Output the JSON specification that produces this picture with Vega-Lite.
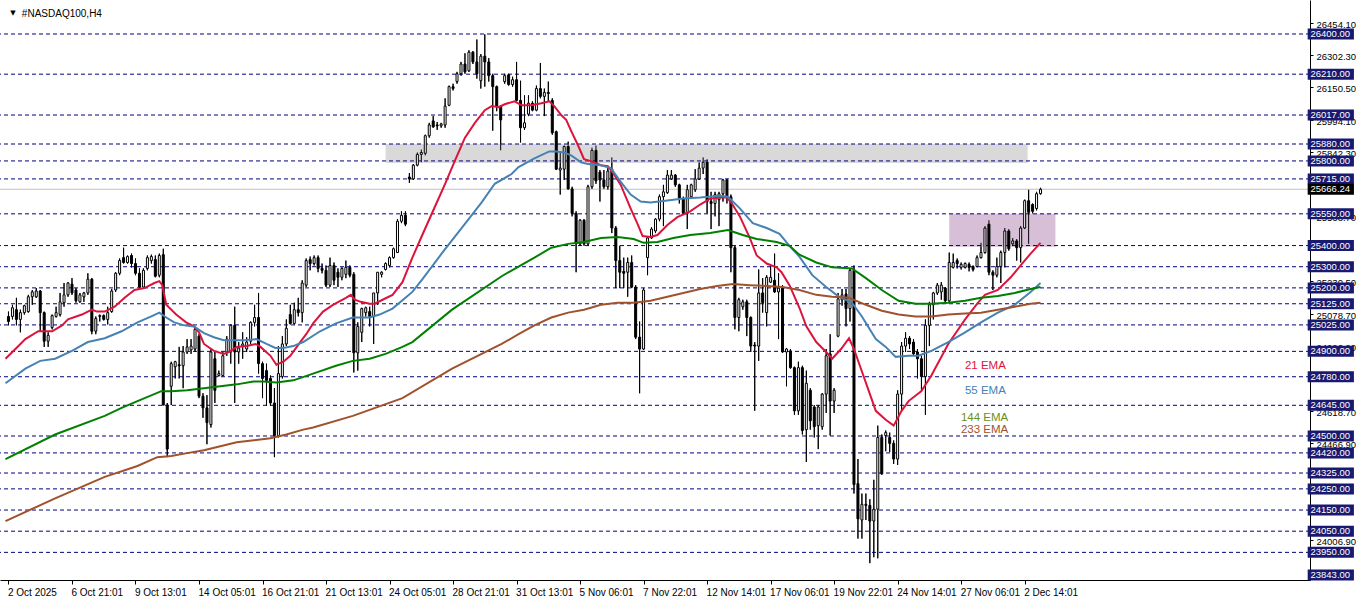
{
"$schema": "https://vega.github.io/schema/vega-lite/v6.json",
"width": 1310, "height": 580,
"autosize": {"type": "none"},
"padding": {"left": 0, "top": 0, "right": 52, "bottom": 23},
"background": "#ffffff",
"config": {"view": {"stroke": null}, "font": "Liberation Sans"},
"datasets": {
"candles": [
{"i":0,"o":25065,"h":25088,"l":25023,"c":25041},
{"i":1,"o":25065,"h":25120,"l":25051,"c":25106},
{"i":2,"o":25097,"h":25153,"l":25023,"c":25051},
{"i":3,"o":25051,"h":25097,"l":24990,"c":25083},
{"i":4,"o":25083,"h":25120,"l":25074,"c":25116},
{"i":5,"o":25088,"h":25167,"l":25083,"c":25158},
{"i":6,"o":25158,"h":25190,"l":25120,"c":25181},
{"i":7,"o":25158,"h":25199,"l":25153,"c":25185},
{"i":8,"o":25185,"h":25190,"l":24995,"c":25083},
{"i":9,"o":25083,"h":25088,"l":24921,"c":24948},
{"i":10,"o":24948,"h":24990,"l":24921,"c":24976},
{"i":11,"o":25013,"h":25074,"l":25004,"c":25069},
{"i":12,"o":25065,"h":25111,"l":25060,"c":25083},
{"i":13,"o":25074,"h":25176,"l":25065,"c":25134},
{"i":14,"o":25130,"h":25223,"l":25111,"c":25167},
{"i":15,"o":25167,"h":25227,"l":25158,"c":25223},
{"i":16,"o":25218,"h":25246,"l":25167,"c":25176},
{"i":17,"o":25190,"h":25199,"l":25130,"c":25139},
{"i":18,"o":25134,"h":25176,"l":25130,"c":25167},
{"i":19,"o":25158,"h":25181,"l":25134,"c":25176},
{"i":20,"o":25176,"h":25269,"l":25167,"c":25241},
{"i":21,"o":25241,"h":25246,"l":24981,"c":24995},
{"i":22,"o":24995,"h":25065,"l":24981,"c":25055},
{"i":23,"o":25065,"h":25074,"l":25041,"c":25069},
{"i":24,"o":25069,"h":25074,"l":25046,"c":25051},
{"i":25,"o":25051,"h":25111,"l":25027,"c":25083},
{"i":26,"o":25088,"h":25195,"l":25083,"c":25185},
{"i":27,"o":25190,"h":25274,"l":25181,"c":25269},
{"i":28,"o":25269,"h":25339,"l":25260,"c":25329},
{"i":29,"o":25343,"h":25390,"l":25315,"c":25320},
{"i":30,"o":25320,"h":25353,"l":25315,"c":25348},
{"i":31,"o":25353,"h":25362,"l":25297,"c":25315},
{"i":32,"o":25315,"h":25339,"l":25260,"c":25269},
{"i":33,"o":25269,"h":25292,"l":25199,"c":25204},
{"i":34,"o":25204,"h":25292,"l":25199,"c":25283},
{"i":35,"o":25292,"h":25353,"l":25283,"c":25343},
{"i":36,"o":25329,"h":25357,"l":25315,"c":25348},
{"i":37,"o":25334,"h":25353,"l":25250,"c":25255},
{"i":38,"o":25260,"h":25362,"l":25250,"c":25353},
{"i":39,"o":25357,"h":25385,"l":24646,"c":24646},
{"i":40,"o":24646,"h":24656,"l":24400,"c":24438},
{"i":41,"o":24735,"h":24851,"l":24646,"c":24842},
{"i":42,"o":24827,"h":24855,"l":24772,"c":24851},
{"i":43,"o":24837,"h":24921,"l":24772,"c":24832},
{"i":44,"o":24832,"h":24925,"l":24726,"c":24897},
{"i":45,"o":24897,"h":24958,"l":24888,"c":24921},
{"i":46,"o":24907,"h":24958,"l":24888,"c":24925},
{"i":47,"o":24911,"h":25013,"l":24897,"c":25004},
{"i":48,"o":24972,"h":24981,"l":24679,"c":24688},
{"i":49,"o":24688,"h":24702,"l":24586,"c":24633},
{"i":50,"o":24633,"h":24693,"l":24461,"c":24563},
{"i":51,"o":24554,"h":24911,"l":24540,"c":24897},
{"i":52,"o":24865,"h":24897,"l":24656,"c":24716},
{"i":53,"o":24786,"h":24809,"l":24781,"c":24795},
{"i":54,"o":24786,"h":24897,"l":24781,"c":24879},
{"i":55,"o":24897,"h":24972,"l":24879,"c":24958},
{"i":56,"o":24897,"h":25027,"l":24842,"c":25023},
{"i":57,"o":25023,"h":25111,"l":24656,"c":24897},
{"i":58,"o":24897,"h":24944,"l":24842,"c":24916},
{"i":59,"o":24925,"h":24990,"l":24865,"c":24935},
{"i":60,"o":24911,"h":24967,"l":24897,"c":24944},
{"i":61,"o":24948,"h":25041,"l":24935,"c":25037},
{"i":62,"o":25037,"h":25120,"l":25018,"c":25060},
{"i":63,"o":25060,"h":25176,"l":24795,"c":24842},
{"i":64,"o":24842,"h":24851,"l":24679,"c":24772},
{"i":65,"o":24809,"h":24842,"l":24642,"c":24763},
{"i":66,"o":24772,"h":24786,"l":24642,"c":24656},
{"i":67,"o":24656,"h":24726,"l":24400,"c":24502},
{"i":68,"o":24502,"h":24925,"l":24493,"c":24795},
{"i":69,"o":24781,"h":24972,"l":24772,"c":24935},
{"i":70,"o":24935,"h":25051,"l":24925,"c":25009},
{"i":71,"o":25074,"h":25120,"l":25027,"c":25032},
{"i":72,"o":25032,"h":25130,"l":25027,"c":25097},
{"i":73,"o":25097,"h":25153,"l":25065,"c":25083},
{"i":74,"o":25083,"h":25236,"l":25037,"c":25223},
{"i":75,"o":25213,"h":25339,"l":25204,"c":25329},
{"i":76,"o":25334,"h":25348,"l":25283,"c":25315},
{"i":77,"o":25315,"h":25353,"l":25306,"c":25343},
{"i":78,"o":25343,"h":25353,"l":25274,"c":25292},
{"i":79,"o":25292,"h":25315,"l":25269,"c":25283},
{"i":80,"o":25283,"h":25306,"l":25204,"c":25213},
{"i":81,"o":25213,"h":25343,"l":25204,"c":25306},
{"i":82,"o":25306,"h":25320,"l":25213,"c":25236},
{"i":83,"o":25274,"h":25292,"l":25204,"c":25250},
{"i":84,"o":25250,"h":25297,"l":25236,"c":25292},
{"i":85,"o":25264,"h":25329,"l":25246,"c":25297},
{"i":86,"o":25297,"h":25306,"l":25250,"c":25260},
{"i":87,"o":25264,"h":25274,"l":24800,"c":24893},
{"i":88,"o":24893,"h":25037,"l":24809,"c":25018},
{"i":89,"o":24990,"h":25106,"l":24944,"c":25102},
{"i":90,"o":25083,"h":25111,"l":25065,"c":25106},
{"i":91,"o":25088,"h":25111,"l":25018,"c":25065},
{"i":92,"o":25065,"h":25176,"l":24935,"c":25176},
{"i":93,"o":25176,"h":25274,"l":25120,"c":25274},
{"i":94,"o":25264,"h":25278,"l":25250,"c":25274},
{"i":95,"o":25287,"h":25320,"l":25283,"c":25315},
{"i":96,"o":25306,"h":25348,"l":25297,"c":25343},
{"i":97,"o":25343,"h":25390,"l":25339,"c":25385},
{"i":98,"o":25367,"h":25525,"l":25367,"c":25515},
{"i":99,"o":25515,"h":25562,"l":25506,"c":25543},
{"i":100,"o":25543,"h":25562,"l":25492,"c":25501},
{"i":101,"o":25724,"h":25743,"l":25696,"c":25715},
{"i":102,"o":25715,"h":25785,"l":25710,"c":25780},
{"i":103,"o":25780,"h":25840,"l":25775,"c":25831},
{"i":104,"o":25831,"h":25854,"l":25794,"c":25840},
{"i":105,"o":25836,"h":25924,"l":25826,"c":25919},
{"i":106,"o":25919,"h":25980,"l":25910,"c":25970},
{"i":107,"o":25989,"h":26012,"l":25957,"c":25961},
{"i":108,"o":25970,"h":25984,"l":25947,"c":25966},
{"i":109,"o":25966,"h":25980,"l":25957,"c":25975},
{"i":110,"o":25970,"h":26096,"l":25957,"c":26059},
{"i":111,"o":26063,"h":26156,"l":26059,"c":26151},
{"i":112,"o":26151,"h":26165,"l":26133,"c":26142},
{"i":113,"o":26175,"h":26221,"l":26165,"c":26212},
{"i":114,"o":26212,"h":26268,"l":26203,"c":26258},
{"i":115,"o":26258,"h":26309,"l":26212,"c":26221},
{"i":116,"o":26226,"h":26323,"l":26221,"c":26314},
{"i":117,"o":26314,"h":26319,"l":26258,"c":26268},
{"i":118,"o":26268,"h":26374,"l":26189,"c":26212},
{"i":119,"o":26179,"h":26305,"l":26142,"c":26295},
{"i":120,"o":26295,"h":26398,"l":26151,"c":26268},
{"i":121,"o":26268,"h":26286,"l":26175,"c":26203},
{"i":122,"o":26203,"h":26212,"l":25943,"c":26151},
{"i":123,"o":26151,"h":26156,"l":26035,"c":26059},
{"i":124,"o":26059,"h":26063,"l":25850,"c":25994},
{"i":125,"o":26175,"h":26212,"l":26165,"c":26203},
{"i":126,"o":26207,"h":26212,"l":26156,"c":26161},
{"i":127,"o":26161,"h":26198,"l":26151,"c":26184},
{"i":128,"o":26184,"h":26268,"l":26082,"c":26086},
{"i":129,"o":26086,"h":26179,"l":25887,"c":25957},
{"i":130,"o":25957,"h":26110,"l":25947,"c":25980},
{"i":131,"o":26021,"h":26110,"l":26012,"c":26073},
{"i":132,"o":26073,"h":26082,"l":26035,"c":26040},
{"i":133,"o":26040,"h":26156,"l":26035,"c":26142},
{"i":134,"o":26142,"h":26263,"l":26096,"c":26105},
{"i":135,"o":26105,"h":26142,"l":26012,"c":26124},
{"i":136,"o":26124,"h":26175,"l":26082,"c":26119},
{"i":137,"o":26086,"h":26096,"l":25924,"c":25933},
{"i":138,"o":25938,"h":25943,"l":25757,"c":25761},
{"i":139,"o":25757,"h":25840,"l":25641,"c":25766},
{"i":140,"o":25761,"h":25873,"l":25710,"c":25868},
{"i":141,"o":25868,"h":25891,"l":25664,"c":25668},
{"i":142,"o":25668,"h":25678,"l":25538,"c":25552},
{"i":143,"o":25552,"h":25562,"l":25274,"c":25408},
{"i":144,"o":25408,"h":25525,"l":25399,"c":25520},
{"i":145,"o":25520,"h":25525,"l":25399,"c":25408},
{"i":146,"o":25408,"h":25687,"l":25399,"c":25678},
{"i":147,"o":25678,"h":25863,"l":25668,"c":25850},
{"i":148,"o":25850,"h":25873,"l":25692,"c":25706},
{"i":149,"o":25747,"h":25757,"l":25608,"c":25710},
{"i":150,"o":25710,"h":25757,"l":25668,"c":25678},
{"i":151,"o":25678,"h":25771,"l":25664,"c":25752},
{"i":152,"o":25761,"h":25817,"l":25459,"c":25483},
{"i":153,"o":25483,"h":25492,"l":25199,"c":25329},
{"i":154,"o":25329,"h":25399,"l":25199,"c":25274},
{"i":155,"o":25278,"h":25343,"l":25199,"c":25269},
{"i":156,"o":25274,"h":25343,"l":25158,"c":25320},
{"i":157,"o":25320,"h":25353,"l":25199,"c":25204},
{"i":158,"o":25204,"h":25213,"l":24958,"c":24967},
{"i":159,"o":24967,"h":25041,"l":24702,"c":24911},
{"i":160,"o":24911,"h":25199,"l":24907,"c":25190},
{"i":161,"o":25343,"h":25445,"l":25260,"c":25436},
{"i":162,"o":25436,"h":25487,"l":25431,"c":25478},
{"i":163,"o":25469,"h":25529,"l":25459,"c":25525},
{"i":164,"o":25525,"h":25641,"l":25515,"c":25631},
{"i":165,"o":25631,"h":25687,"l":25492,"c":25654},
{"i":166,"o":25650,"h":25757,"l":25645,"c":25733},
{"i":167,"o":25715,"h":25757,"l":25710,"c":25733},
{"i":168,"o":25733,"h":25738,"l":25678,"c":25687},
{"i":169,"o":25687,"h":25692,"l":25599,"c":25622},
{"i":170,"o":25622,"h":25631,"l":25548,"c":25552},
{"i":171,"o":25552,"h":25687,"l":25478,"c":25664},
{"i":172,"o":25631,"h":25692,"l":25622,"c":25687},
{"i":173,"o":25664,"h":25761,"l":25654,"c":25715},
{"i":174,"o":25715,"h":25794,"l":25710,"c":25766},
{"i":175,"o":25766,"h":25817,"l":25738,"c":25794},
{"i":176,"o":25794,"h":25808,"l":25552,"c":25608},
{"i":177,"o":25608,"h":25654,"l":25478,"c":25599},
{"i":178,"o":25599,"h":25654,"l":25538,"c":25641},
{"i":179,"o":25617,"h":25654,"l":25492,"c":25645},
{"i":180,"o":25645,"h":25715,"l":25608,"c":25710},
{"i":181,"o":25710,"h":25715,"l":25599,"c":25631},
{"i":182,"o":25631,"h":25641,"l":25274,"c":25390},
{"i":183,"o":25390,"h":25399,"l":25004,"c":25060},
{"i":184,"o":25060,"h":25153,"l":24995,"c":25144},
{"i":185,"o":25111,"h":25144,"l":25097,"c":25134},
{"i":186,"o":25134,"h":25144,"l":24972,"c":25060},
{"i":187,"o":25060,"h":25065,"l":24897,"c":24925},
{"i":188,"o":24930,"h":24944,"l":24619,"c":24925},
{"i":189,"o":24925,"h":25287,"l":24855,"c":25176},
{"i":190,"o":25176,"h":25246,"l":25083,"c":25130},
{"i":191,"o":25083,"h":25260,"l":25018,"c":25250},
{"i":192,"o":25227,"h":25306,"l":25223,"c":25250},
{"i":193,"o":25236,"h":25362,"l":25176,"c":25181},
{"i":194,"o":25181,"h":25269,"l":24958,"c":25199},
{"i":195,"o":25199,"h":25213,"l":24893,"c":24897},
{"i":196,"o":24897,"h":24916,"l":24735,"c":24911},
{"i":197,"o":24902,"h":24911,"l":24818,"c":24823},
{"i":198,"o":24823,"h":24828,"l":24600,"c":24619},
{"i":199,"o":24619,"h":24851,"l":24600,"c":24823},
{"i":200,"o":24823,"h":24832,"l":24507,"c":24526},
{"i":201,"o":24530,"h":24809,"l":24377,"c":24749},
{"i":202,"o":24716,"h":24726,"l":24530,"c":24572},
{"i":203,"o":24637,"h":24646,"l":24493,"c":24544},
{"i":204,"o":24549,"h":24646,"l":24438,"c":24637},
{"i":205,"o":24544,"h":24702,"l":24530,"c":24698},
{"i":206,"o":24698,"h":24911,"l":24609,"c":24879},
{"i":207,"o":24888,"h":24981,"l":24502,"c":24665},
{"i":208,"o":24665,"h":24726,"l":24609,"c":24716},
{"i":209,"o":24972,"h":25176,"l":24967,"c":25148},
{"i":210,"o":25144,"h":25195,"l":25116,"c":25167},
{"i":211,"o":25171,"h":25195,"l":25018,"c":25102},
{"i":212,"o":25102,"h":25292,"l":25041,"c":25283},
{"i":213,"o":25283,"h":25306,"l":24228,"c":24270},
{"i":214,"o":24275,"h":24391,"l":24015,"c":24108},
{"i":215,"o":24103,"h":24228,"l":24015,"c":24177},
{"i":216,"o":24177,"h":24228,"l":24103,"c":24172},
{"i":217,"o":24172,"h":24201,"l":23899,"c":24098},
{"i":218,"o":24098,"h":24293,"l":23927,"c":24154},
{"i":219,"o":24154,"h":24549,"l":23922,"c":24493},
{"i":220,"o":24493,"h":24507,"l":24317,"c":24321},
{"i":221,"o":24502,"h":24526,"l":24428,"c":24516},
{"i":222,"o":24493,"h":24516,"l":24424,"c":24465},
{"i":223,"o":24465,"h":24479,"l":24368,"c":24391},
{"i":224,"o":24391,"h":24716,"l":24363,"c":24698},
{"i":225,"o":24698,"h":24944,"l":24619,"c":24925},
{"i":226,"o":24925,"h":24990,"l":24897,"c":24962},
{"i":227,"o":24962,"h":24972,"l":24911,"c":24935},
{"i":228,"o":24944,"h":24958,"l":24879,"c":24888},
{"i":229,"o":24897,"h":24911,"l":24772,"c":24865},
{"i":230,"o":24865,"h":24879,"l":24712,"c":24781},
{"i":231,"o":24781,"h":25051,"l":24600,"c":25023},
{"i":232,"o":25023,"h":25134,"l":24925,"c":25120},
{"i":233,"o":25120,"h":25181,"l":25051,"c":25176},
{"i":234,"o":25176,"h":25223,"l":25167,"c":25213},
{"i":235,"o":25181,"h":25227,"l":25144,"c":25213},
{"i":236,"o":25199,"h":25204,"l":25130,"c":25139},
{"i":237,"o":25139,"h":25367,"l":25134,"c":25320},
{"i":238,"o":25297,"h":25362,"l":25292,"c":25320},
{"i":239,"o":25329,"h":25339,"l":25292,"c":25315},
{"i":240,"o":25297,"h":25320,"l":25287,"c":25311},
{"i":241,"o":25297,"h":25320,"l":25292,"c":25315},
{"i":242,"o":25311,"h":25320,"l":25278,"c":25297},
{"i":243,"o":25301,"h":25306,"l":25278,"c":25287},
{"i":244,"o":25301,"h":25353,"l":25297,"c":25343},
{"i":245,"o":25343,"h":25413,"l":25339,"c":25367},
{"i":246,"o":25367,"h":25492,"l":25362,"c":25483},
{"i":247,"o":25501,"h":25520,"l":25260,"c":25274},
{"i":248,"o":25274,"h":25283,"l":25190,"c":25260},
{"i":249,"o":25260,"h":25343,"l":25250,"c":25301},
{"i":250,"o":25301,"h":25376,"l":25223,"c":25367},
{"i":251,"o":25367,"h":25483,"l":25297,"c":25469},
{"i":252,"o":25469,"h":25478,"l":25376,"c":25385},
{"i":253,"o":25408,"h":25436,"l":25399,"c":25422},
{"i":254,"o":25422,"h":25431,"l":25329,"c":25390},
{"i":255,"o":25390,"h":25492,"l":25320,"c":25483},
{"i":256,"o":25483,"h":25617,"l":25478,"c":25612},
{"i":257,"o":25612,"h":25664,"l":25408,"c":25557},
{"i":258,"o":25594,"h":25599,"l":25552,"c":25562},
{"i":259,"o":25575,"h":25654,"l":25566,"c":25645},
{"i":260,"o":25645,"h":25673,"l":25641,"c":25666.24}
],
"ema": [
{"e":"21","i":-0.75,"v":24865},{"e":"21","i":1.75,"v":24911},{"e":"21","i":4.25,"v":24958},{"e":"21","i":7.5,"v":24995},{"e":"21","i":11,"v":24995},{"e":"21","i":13.5,"v":25023},{"e":"21","i":15,"v":25051},{"e":"21","i":18.5,"v":25074},{"e":"21","i":21,"v":25097},{"e":"21","i":22.25,"v":25088},{"e":"21","i":24.25,"v":25088},{"e":"21","i":26.75,"v":25111},{"e":"21","i":29.25,"v":25153},{"e":"21","i":31.75,"v":25190},{"e":"21","i":34.25,"v":25199},{"e":"21","i":36.75,"v":25223},{"e":"21","i":38,"v":25232},{"e":"21","i":38.75,"v":25213},{"e":"21","i":39.75,"v":25120},{"e":"21","i":42.25,"v":25074},{"e":"21","i":44.75,"v":25037},{"e":"21","i":46.75,"v":25018},{"e":"21","i":48,"v":24990},{"e":"21","i":49.25,"v":24935},{"e":"21","i":51.75,"v":24902},{"e":"21","i":54.25,"v":24888},{"e":"21","i":55.5,"v":24897},{"e":"21","i":57.5,"v":24921},{"e":"21","i":60,"v":24925},{"e":"21","i":62.25,"v":24935},{"e":"21","i":63.5,"v":24921},{"e":"21","i":66,"v":24879},{"e":"21","i":67.5,"v":24837},{"e":"21","i":69.25,"v":24851},{"e":"21","i":71,"v":24879},{"e":"21","i":73.5,"v":24944},{"e":"21","i":75,"v":24981},{"e":"21","i":76.75,"v":25032},{"e":"21","i":79.25,"v":25088},{"e":"21","i":81.75,"v":25120},{"e":"21","i":85,"v":25153},{"e":"21","i":86.25,"v":25167},{"e":"21","i":87.25,"v":25144},{"e":"21","i":88.75,"v":25134},{"e":"21","i":91,"v":25125},{"e":"21","i":92.25,"v":25125},{"e":"21","i":94.25,"v":25144},{"e":"21","i":96.75,"v":25167},{"e":"21","i":99.25,"v":25227},{"e":"21","i":101.75,"v":25343},{"e":"21","i":104.25,"v":25450},{"e":"21","i":106.75,"v":25555},{"e":"21","i":110,"v":25692},{"e":"21","i":112.5,"v":25803},{"e":"21","i":115,"v":25910},{"e":"21","i":117.5,"v":25980},{"e":"21","i":120,"v":26040},{"e":"21","i":121.75,"v":26059},{"e":"21","i":123.5,"v":26054},{"e":"21","i":125,"v":26068},{"e":"21","i":127.5,"v":26082},{"e":"21","i":129.25,"v":26063},{"e":"21","i":131.75,"v":26063},{"e":"21","i":134.25,"v":26073},{"e":"21","i":136.25,"v":26082},{"e":"21","i":137.5,"v":26059},{"e":"21","i":139.25,"v":26017},{"e":"21","i":140.5,"v":25994},{"e":"21","i":141.75,"v":25942},{"e":"21","i":143.5,"v":25873},{"e":"21","i":145,"v":25808},{"e":"21","i":146.75,"v":25799},{"e":"21","i":149.25,"v":25780},{"e":"21","i":151,"v":25775},{"e":"21","i":152.5,"v":25738},{"e":"21","i":154.25,"v":25687},{"e":"21","i":156.75,"v":25575},{"e":"21","i":158.5,"v":25501},{"e":"21","i":159.75,"v":25445},{"e":"21","i":161.75,"v":25441},{"e":"21","i":163.5,"v":25450},{"e":"21","i":166,"v":25497},{"e":"21","i":168.5,"v":25534},{"e":"21","i":171.75,"v":25562},{"e":"21","i":174.25,"v":25594},{"e":"21","i":176.75,"v":25622},{"e":"21","i":179.25,"v":25627},{"e":"21","i":181,"v":25627},{"e":"21","i":182.25,"v":25599},{"e":"21","i":184.25,"v":25538},{"e":"21","i":186.75,"v":25436},{"e":"21","i":188.5,"v":25353},{"e":"21","i":191,"v":25315},{"e":"21","i":193.5,"v":25297},{"e":"21","i":194.75,"v":25274},{"e":"21","i":196.75,"v":25213},{"e":"21","i":199.25,"v":25106},{"e":"21","i":201,"v":25018},{"e":"21","i":203.5,"v":24944},{"e":"21","i":206,"v":24897},{"e":"21","i":207.5,"v":24865},{"e":"21","i":209.75,"v":24911},{"e":"21","i":211.75,"v":24962},{"e":"21","i":213,"v":24911},{"e":"21","i":215,"v":24805},{"e":"21","i":216.75,"v":24712},{"e":"21","i":218.5,"v":24619},{"e":"21","i":221,"v":24577},{"e":"21","i":223,"v":24549},{"e":"21","i":225,"v":24619},{"e":"21","i":226.75,"v":24665},{"e":"21","i":230,"v":24712},{"e":"21","i":232.5,"v":24786},{"e":"21","i":236.75,"v":24935},{"e":"21","i":241,"v":25051},{"e":"21","i":244.25,"v":25130},{"e":"21","i":246,"v":25167},{"e":"21","i":249.25,"v":25190},{"e":"21","i":252.5,"v":25250},{"e":"21","i":255,"v":25306},{"e":"21","i":257.5,"v":25362},{"e":"21","i":260,"v":25413},
{"e":"55","i":-0.75,"v":24749},{"e":"55","i":4.25,"v":24818},{"e":"55","i":8,"v":24855},{"e":"55","i":11.75,"v":24865},{"e":"55","i":16,"v":24902},{"e":"55","i":20,"v":24944},{"e":"55","i":24.25,"v":24962},{"e":"55","i":28.5,"v":24995},{"e":"55","i":32.5,"v":25037},{"e":"55","i":36,"v":25065},{"e":"55","i":38,"v":25083},{"e":"55","i":39.75,"v":25060},{"e":"55","i":41.75,"v":25037},{"e":"55","i":44.25,"v":25023},{"e":"55","i":46.75,"v":25018},{"e":"55","i":49.25,"v":24986},{"e":"55","i":51.75,"v":24967},{"e":"55","i":54.25,"v":24953},{"e":"55","i":59.25,"v":24953},{"e":"55","i":62.5,"v":24958},{"e":"55","i":65,"v":24935},{"e":"55","i":67.25,"v":24916},{"e":"55","i":69.25,"v":24916},{"e":"55","i":71.75,"v":24925},{"e":"55","i":74.25,"v":24944},{"e":"55","i":78.5,"v":24995},{"e":"55","i":82.5,"v":25032},{"e":"55","i":86.75,"v":25060},{"e":"55","i":91,"v":25060},{"e":"55","i":93.5,"v":25074},{"e":"55","i":96.75,"v":25102},{"e":"55","i":100,"v":25153},{"e":"55","i":101.75,"v":25181},{"e":"55","i":104.25,"v":25240},{"e":"55","i":109.25,"v":25365},{"e":"55","i":114.25,"v":25485},{"e":"55","i":119.25,"v":25605},{"e":"55","i":122.5,"v":25692},{"e":"55","i":126.75,"v":25738},{"e":"55","i":128.5,"v":25771},{"e":"55","i":132.5,"v":25812},{"e":"55","i":136.25,"v":25845},{"e":"55","i":138,"v":25845},{"e":"55","i":140,"v":25840},{"e":"55","i":141.75,"v":25826},{"e":"55","i":144.25,"v":25794},{"e":"55","i":146,"v":25785},{"e":"55","i":149.25,"v":25780},{"e":"55","i":151.75,"v":25766},{"e":"55","i":154.25,"v":25701},{"e":"55","i":156.75,"v":25641},{"e":"55","i":159.25,"v":25608},{"e":"55","i":161.75,"v":25603},{"e":"55","i":166,"v":25613},{"e":"55","i":170,"v":25622},{"e":"55","i":174.25,"v":25627},{"e":"55","i":179.25,"v":25636},{"e":"55","i":181.25,"v":25631},{"e":"55","i":184.25,"v":25576},{"e":"55","i":187.5,"v":25506},{"e":"55","i":191,"v":25483},{"e":"55","i":194.25,"v":25455},{"e":"55","i":196.75,"v":25399},{"e":"55","i":199.25,"v":25348},{"e":"55","i":202.5,"v":25260},{"e":"55","i":206,"v":25204},{"e":"55","i":209.25,"v":25158},{"e":"55","i":212.5,"v":25130},{"e":"55","i":215,"v":25065},{"e":"55","i":218.5,"v":24958},{"e":"55","i":221,"v":24921},{"e":"55","i":223.5,"v":24874},{"e":"55","i":226.75,"v":24879},{"e":"55","i":229.25,"v":24879},{"e":"55","i":232.5,"v":24902},{"e":"55","i":236.75,"v":24944},{"e":"55","i":241,"v":24990},{"e":"55","i":245,"v":25037},{"e":"55","i":249.25,"v":25083},{"e":"55","i":253.5,"v":25120},{"e":"55","i":257.5,"v":25181},{"e":"55","i":260,"v":25223},
{"e":"144","i":-0.75,"v":24391},{"e":"144","i":11.75,"v":24507},{"e":"144","i":24.25,"v":24595},{"e":"144","i":28.5,"v":24633},{"e":"144","i":32.5,"v":24665},{"e":"144","i":38.5,"v":24712},{"e":"144","i":41,"v":24712},{"e":"144","i":45,"v":24716},{"e":"144","i":49.25,"v":24726},{"e":"144","i":57.5,"v":24744},{"e":"144","i":61.75,"v":24758},{"e":"144","i":64.25,"v":24758},{"e":"144","i":67.5,"v":24753},{"e":"144","i":71.75,"v":24763},{"e":"144","i":76.75,"v":24795},{"e":"144","i":82.5,"v":24832},{"e":"144","i":86.75,"v":24855},{"e":"144","i":91,"v":24865},{"e":"144","i":95,"v":24888},{"e":"144","i":99.25,"v":24921},{"e":"144","i":101.75,"v":24944},{"e":"144","i":111.75,"v":25097},{"e":"144","i":124.25,"v":25255},{"e":"144","i":128.5,"v":25301},{"e":"144","i":132.5,"v":25343},{"e":"144","i":136.75,"v":25390},{"e":"144","i":141,"v":25408},{"e":"144","i":145,"v":25417},{"e":"144","i":149.25,"v":25436},{"e":"144","i":153.5,"v":25441},{"e":"144","i":157.5,"v":25431},{"e":"144","i":160,"v":25413},{"e":"144","i":163.5,"v":25417},{"e":"144","i":167.5,"v":25436},{"e":"144","i":171.75,"v":25450},{"e":"144","i":176.75,"v":25459},{"e":"144","i":181.25,"v":25473},{"e":"144","i":185,"v":25450},{"e":"144","i":188.5,"v":25431},{"e":"144","i":193.5,"v":25417},{"e":"144","i":196.75,"v":25399},{"e":"144","i":199.25,"v":25357},{"e":"144","i":203.5,"v":25320},{"e":"144","i":207.5,"v":25297},{"e":"144","i":212.5,"v":25292},{"e":"144","i":216,"v":25246},{"e":"144","i":220,"v":25190},{"e":"144","i":224.25,"v":25139},{"e":"144","i":228.5,"v":25125},{"e":"144","i":232.5,"v":25125},{"e":"144","i":236.75,"v":25130},{"e":"144","i":241,"v":25139},{"e":"144","i":245,"v":25153},{"e":"144","i":249.25,"v":25162},{"e":"144","i":253.5,"v":25176},{"e":"144","i":257.5,"v":25195},{"e":"144","i":260,"v":25204},
{"e":"233","i":-0.75,"v":24098},{"e":"233","i":11.75,"v":24205},{"e":"233","i":24.25,"v":24307},{"e":"233","i":32.5,"v":24358},{"e":"233","i":37.5,"v":24400},{"e":"233","i":41,"v":24405},{"e":"233","i":45,"v":24419},{"e":"233","i":49.25,"v":24433},{"e":"233","i":57.5,"v":24470},{"e":"233","i":66,"v":24489},{"e":"233","i":70,"v":24507},{"e":"233","i":74.25,"v":24530},{"e":"233","i":76.75,"v":24540},{"e":"233","i":86.75,"v":24595},{"e":"233","i":99.25,"v":24679},{"e":"233","i":111.75,"v":24818},{"e":"233","i":124.25,"v":24935},{"e":"233","i":128.5,"v":24981},{"e":"233","i":132.5,"v":25023},{"e":"233","i":136.75,"v":25060},{"e":"233","i":141,"v":25083},{"e":"233","i":145,"v":25097},{"e":"233","i":149.25,"v":25120},{"e":"233","i":153.5,"v":25130},{"e":"233","i":157.5,"v":25130},{"e":"233","i":161.75,"v":25139},{"e":"233","i":166,"v":25158},{"e":"233","i":170,"v":25176},{"e":"233","i":174.25,"v":25195},{"e":"233","i":178.5,"v":25209},{"e":"233","i":182.5,"v":25218},{"e":"233","i":186.75,"v":25213},{"e":"233","i":191,"v":25209},{"e":"233","i":195,"v":25204},{"e":"233","i":199.25,"v":25190},{"e":"233","i":203.5,"v":25167},{"e":"233","i":207.5,"v":25158},{"e":"233","i":211.75,"v":25153},{"e":"233","i":216,"v":25120},{"e":"233","i":220,"v":25092},{"e":"233","i":224.25,"v":25074},{"e":"233","i":228.5,"v":25065},{"e":"233","i":232.5,"v":25065},{"e":"233","i":236.75,"v":25074},{"e":"233","i":241,"v":25079},{"e":"233","i":245,"v":25083},{"e":"233","i":249.25,"v":25097},{"e":"233","i":253.5,"v":25111},{"e":"233","i":257.5,"v":25125},{"e":"233","i":260,"v":25130}
],
"levels": [{"p":26400},{"p":26210},{"p":26017},{"p":25880},{"p":25800},{"p":25715},{"p":25550},{"p":25400},{"p":25300},{"p":25200},{"p":25125},{"p":25025},{"p":24900},{"p":24780},{"p":24645},{"p":24500},{"p":24420},{"p":24325},{"p":24250},{"p":24150},{"p":24050},{"p":23950},{"p":23843}],
"zones": [{"z":"resistance","i":95,"i2":256.75,"p":25880,"p2":25790},{"z":"support","i":237,"i2":263.75,"p":25550,"p2":25395}],
"last": [{"p":25666.24}],
"notes": [{"t":"21 EMA","i":246.1,"p":24832},{"t":"55 EMA","i":246.1,"p":24712},{"t":"144 EMA","i":245.9,"p":24586},{"t":"233 EMA","i":245.9,"p":24526}],
"title": [{"t":"#NASDAQ100,H4","i":3.375,"p":26495}],
"mark": [{"t":"▼","i":1.1,"p":26497}]
},
"layer": [
{"data":{"name":"candles"},"mark":{"type":"rule","color":"#000000","strokeWidth":1},
 "encoding":{"x":{"field":"i","type":"quantitative","title":null,"scale":{"domain":[-0.875,326.625],"nice":false,"zero":false},
   "axis":{"orient":"bottom","title":null,"grid":false,"values":[0,16,32,48,64,80,96,112,128,144,160,176,192,208,224,240,256],
    "labelExpr":"['2 Oct 2025','6 Oct 21:01','9 Oct 13:01','14 Oct 05:01','16 Oct 21:01','21 Oct 13:01','24 Oct 05:01','28 Oct 21:01','31 Oct 13:01','5 Nov 06:01','7 Nov 22:01','12 Nov 14:01','17 Nov 06:01','19 Nov 22:01','24 Nov 14:01','27 Nov 06:01','2 Dec 14:01'][round(datum.value/16)]",
    "labelAlign":"left","labelBaseline":"top","labelPadding":3,"labelOffset":-1,"tickSize":4,"tickColor":"#000000","domainColor":"#000000","labelColor":"#000000","labelFont":"Liberation Sans","labelFontSize":10,"labelOverlap":false,"labelFlush":false,"labelBound":false}},
  "y":{"field":"l","type":"quantitative","title":null,"scale":{"domain":[23843,26537],"nice":false,"zero":false},
   "axis":{"orient":"right","title":null,"grid":false,"values":[26454.1,26302.3,26150.5,25994.1,25842.3,25538.7,25230.5,25078.7,24926.9,24618.7,24466.9,24006.9],
    "format":".2f","tickSize":3,"labelPadding":3,"labelOffset":1.5,"tickColor":"#000000","domainColor":"#000000","labelColor":"#000000","labelFont":"Liberation Sans","labelFontSize":9.5,"labelOverlap":false,"labelBaseline":"middle","labelBound":false,"labelFlush":false}},
  "y2":{"field":"h"}}},
{"data":{"name":"zones"},"mark":{"type":"rect"},
 "encoding":{"x":{"field":"i","type":"quantitative","title":null,"scale":{"domain":[-0.875,326.625],"nice":false,"zero":false}},
  "x2":{"field":"i2"},
  "y":{"field":"p","type":"quantitative","title":null,"scale":{"domain":[23843,26537],"nice":false,"zero":false}},
  "y2":{"field":"p2"},
  "color":{"field":"z","type":"nominal","scale":{"domain":["resistance","support"],"range":["#D9D9D9","#D8BFD8"]},"legend":null}}},
{"data":{"name":"last"},"mark":{"type":"rule","color":"#C0C0C0","strokeWidth":1},
 "encoding":{"y":{"field":"p","type":"quantitative","title":null,"scale":{"domain":[23843,26537],"nice":false,"zero":false}}}},
{"data":{"name":"levels"},"transform":[{"filter":"datum.p > 23843"}],"mark":{"type":"rule","color":"#000080","strokeWidth":1,"strokeDash":[4,3]},
 "encoding":{"y":{"field":"p","type":"quantitative","title":null,"scale":{"domain":[23843,26537],"nice":false,"zero":false}}}},
{"data":{"name":"candles"},"mark":{"type":"rule","color":"#000000","strokeWidth":1},
 "encoding":{"x":{"field":"i","type":"quantitative","title":null,"scale":{"domain":[-0.875,326.625],"nice":false,"zero":false}},
  "y":{"field":"l","type":"quantitative","title":null,"scale":{"domain":[23843,26537],"nice":false,"zero":false}},
  "y2":{"field":"h"}}},
{"data":{"name":"candles"},"mark":{"type":"bar","width":2,"stroke":"#000000","strokeWidth":1},
 "encoding":{"x":{"field":"i","type":"quantitative","title":null,"scale":{"domain":[-0.875,326.625],"nice":false,"zero":false}},
  "y":{"field":"o","type":"quantitative","title":null,"scale":{"domain":[23843,26537],"nice":false,"zero":false}},
  "y2":{"field":"c"},
  "fill":{"condition":{"test":"datum.c >= datum.o","value":"#ffffff"},"value":"#000000"}}},
{"data":{"name":"ema"},"mark":{"type":"line","strokeWidth":2},
 "encoding":{"x":{"field":"i","type":"quantitative","title":null,"scale":{"domain":[-0.875,326.625],"nice":false,"zero":false}},
  "y":{"field":"v","type":"quantitative","title":null,"scale":{"domain":[23843,26537],"nice":false,"zero":false}},
  "stroke":{"field":"e","type":"nominal","scale":{"domain":["21","55","144","233"],"range":["#DC143C","#4682B4","#008000","#A0522D"]},"legend":null},
  "order":{"field":"i","type":"quantitative"}}},
{"data":{"name":"levels"},"mark":{"type":"bar","height":11,"color":"#191970"},
 "encoding":{"x":{"datum":327.3,"type":"quantitative","title":null,"scale":{"domain":[-0.875,326.625],"nice":false,"zero":false}},
  "x2":{"datum":338.95},
  "y":{"field":"p","type":"quantitative","title":null,"scale":{"domain":[23843,26537],"nice":false,"zero":false}}}},
{"data":{"name":"levels"},"mark":{"type":"text","align":"left","baseline":"middle","color":"#ffffff","font":"Liberation Sans","fontSize":9.5},
 "encoding":{"x":{"datum":328.0,"type":"quantitative","title":null,"scale":{"domain":[-0.875,326.625],"nice":false,"zero":false}},
  "y":{"field":"p","type":"quantitative","title":null,"scale":{"domain":[23843,26537],"nice":false,"zero":false}},
  "text":{"field":"p","type":"quantitative","format":".2f"}}},
{"data":{"name":"last"},"mark":{"type":"bar","height":11,"color":"#000000"},
 "encoding":{"x":{"datum":327.3,"type":"quantitative","title":null,"scale":{"domain":[-0.875,326.625],"nice":false,"zero":false}},
  "x2":{"datum":338.95},
  "y":{"field":"p","type":"quantitative","title":null,"scale":{"domain":[23843,26537],"nice":false,"zero":false}}}},
{"data":{"name":"last"},"mark":{"type":"text","align":"left","baseline":"middle","color":"#ffffff","font":"Liberation Sans","fontSize":9.5},
 "encoding":{"x":{"datum":328.0,"type":"quantitative","title":null,"scale":{"domain":[-0.875,326.625],"nice":false,"zero":false}},
  "y":{"field":"p","type":"quantitative","title":null,"scale":{"domain":[23843,26537],"nice":false,"zero":false}},
  "text":{"field":"p","type":"quantitative","format":".2f"}}},
{"data":{"name":"notes"},"mark":{"type":"text","align":"center","baseline":"middle","font":"Liberation Sans","fontSize":11.5},
 "encoding":{"x":{"field":"i","type":"quantitative","title":null,"scale":{"domain":[-0.875,326.625],"nice":false,"zero":false}},
  "y":{"field":"p","type":"quantitative","title":null,"scale":{"domain":[23843,26537],"nice":false,"zero":false}},
  "text":{"field":"t","type":"nominal"},
  "fill":{"field":"t","type":"nominal","scale":{"domain":["21 EMA","55 EMA","144 EMA","233 EMA"],"range":["#DC143C","#4682B4","#6B8E23","#A0522D"]},"legend":null}}},
{"data":{"name":"title"},"mark":{"type":"text","align":"left","baseline":"middle","color":"#000000","font":"Liberation Sans","fontSize":10},
 "encoding":{"x":{"field":"i","type":"quantitative","title":null,"scale":{"domain":[-0.875,326.625],"nice":false,"zero":false}},
  "y":{"field":"p","type":"quantitative","title":null,"scale":{"domain":[23843,26537],"nice":false,"zero":false}},
  "text":{"field":"t","type":"nominal"}}},
{"data":{"name":"mark"},"mark":{"type":"text","align":"center","baseline":"middle","color":"#000000","font":"DejaVu Sans","fontSize":7},
 "encoding":{"x":{"field":"i","type":"quantitative","title":null,"scale":{"domain":[-0.875,326.625],"nice":false,"zero":false}},
  "y":{"field":"p","type":"quantitative","title":null,"scale":{"domain":[23843,26537],"nice":false,"zero":false}},
  "text":{"field":"t","type":"nominal"}}}
]
}
